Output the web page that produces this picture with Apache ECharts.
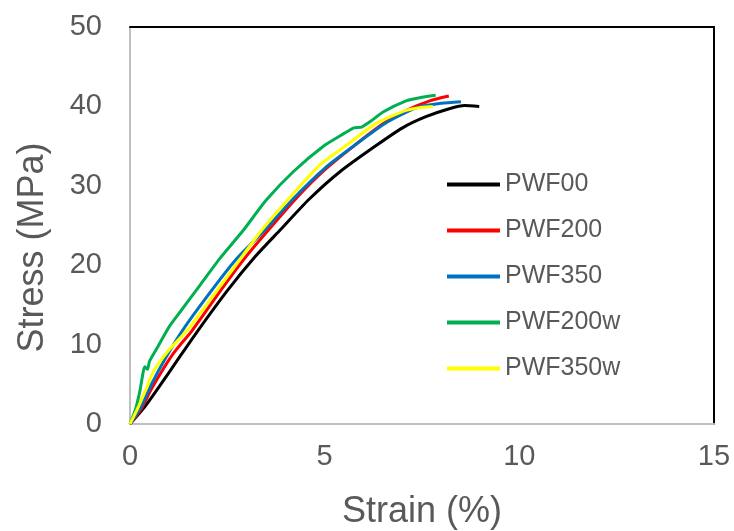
<!DOCTYPE html>
<html>
<head>
<meta charset="utf-8">
<script src="https://cdn.jsdelivr.net/npm/echarts@6/dist/echarts.min.js"></script>
<style>
html,body{margin:0;padding:0;background:#fff;}
#c{width:734px;height:531px;}
</style>
</head>
<body>
<div id="c"></div>
<script>
const seriesNames = ['PWF00', 'PWF200', 'PWF350', 'PWF200w', 'PWF350w'];
const xTicks = [0, 5, 10, 15];
const yTicks = [0, 10, 20, 30, 40, 50];

const pwf00 = [[0,0],[0.4,2.3],[0.75,4.7],[1.24,8.2],[1.75,11.8],[2.5,16.8],[3.2,21.0],[3.85,24.4],[4.6,28.3],[5.4,31.8],[6.33,35.1],[7.0,37.3],[7.6,38.7],[8.2,39.7],[8.6,40.1],[8.97,40.0]];
const pwf200 = [[0,0],[0.3,2.0],[0.56,4.5],[1.1,8.8],[1.6,11.8],[2.4,17.3],[3.0,21.2],[3.55,24.4],[4.3,28.6],[5.0,32.0],[5.77,35.1],[6.5,37.8],[7.1,39.5],[7.7,40.7],[8.19,41.3]];
const pwf350 = [[0,0],[0.3,2.3],[0.55,5.0],[0.9,8.2],[1.35,11.8],[2.0,16.2],[2.7,20.6],[3.46,24.4],[4.2,28.4],[5.0,32.2],[5.77,35.1],[6.6,38.0],[7.4,39.9],[8.0,40.4],[8.5,40.6]];
const pwf200w = [[0,0],[0.15,2.0],[0.26,4.3],[0.38,7.2],[0.45,6.9],[0.5,7.9],[0.7,9.6],[1.0,12.2],[1.3,14.2],[1.8,17.5],[2.3,20.8],[2.91,24.4],[3.5,28.2],[4.2,31.8],[5.0,35.1],[5.5,36.6],[5.75,37.3],[5.95,37.4],[6.2,38.2],[6.5,39.3],[7.09,40.7],[7.44,41.1],[7.85,41.4]];
const pwf350w = [[0,0],[0.2,2.0],[0.43,4.6],[0.6,6.6],[0.98,9.2],[1.47,11.8],[2.05,15.6],[2.7,19.9],[3.38,24.4],[4.1,28.5],[4.87,32.6],[5.56,35.1],[6.3,37.8],[7.09,39.5],[7.5,39.9],[7.78,40.0]];

const seriesData = [pwf00, pwf200, pwf350, pwf200w, pwf350w];
const colors = ['#000000', '#FF0000', '#0070C0', '#00B050', '#FFFF00'];

const FONT = 'Liberation Sans, Arial, sans-serif';
const TXT = '#595959';

const chart = echarts.init(document.getElementById('c'), null, {renderer: 'canvas'});
chart.setOption({
  animation: false,
  backgroundColor: '#ffffff',
  grid: {left: 130, right: 20, top: 27, bottom: 107, containLabel: false, outerBoundsMode: 'none'},
  legend: {
    orient: 'vertical',
    left: 442,
    top: 167,
    itemWidth: 53,
    itemHeight: 4,
    itemGap: 21,
    icon: 'rect',
    data: seriesNames,
    textStyle: {color: TXT, fontSize: 25, fontFamily: FONT, lineHeight: 25}
  },
  xAxis: [{
    type: 'value', min: xTicks[0], max: xTicks[xTicks.length-1], interval: 5,
    name: 'Strain (%)', nameLocation: 'middle', nameGap: 70,
    nameTextStyle: {color: TXT, fontSize: 36, fontFamily: FONT, lineHeight: 36},
    axisLine: {show: true, lineStyle: {color: '#BFBFBF', width: 2}},
    axisTick: {show: false},
    splitLine: {show: false},
    axisLabel: {color: TXT, fontSize: 29, fontFamily: FONT, margin: 18}
  }, {
    type: 'value', position: 'top', min: 0, max: 15,
    axisLine: {show: true, onZero: false, lineStyle: {color: '#000000', width: 2}},
    axisTick: {show: false}, axisLabel: {show: false}, splitLine: {show: false}
  }],
  yAxis: [{
    type: 'value', min: yTicks[0], max: yTicks[yTicks.length-1], interval: 10,
    name: 'Stress (MPa)', nameLocation: 'middle', nameGap: 79, nameRotate: 90,
    nameTextStyle: {color: TXT, fontSize: 36, fontFamily: FONT, padding: [0, 44, 0, 0]},
    axisLine: {show: true, lineStyle: {color: '#BFBFBF', width: 2}},
    axisTick: {show: false},
    splitLine: {show: false},
    axisLabel: {color: TXT, fontSize: 29, fontFamily: FONT, margin: 28}
  }, {
    type: 'value', position: 'right', min: 0, max: 50,
    axisLine: {show: true, onZero: false, lineStyle: {color: '#000000', width: 2}},
    axisTick: {show: false}, axisLabel: {show: false}, splitLine: {show: false}
  }],
  series: seriesNames.map((n, i) => ({
    name: n,
    type: 'line',
    data: seriesData[i],
    xAxisIndex: 0, yAxisIndex: 0,
    symbol: 'none',
    smooth: 0.2,
    color: colors[i],
    lineStyle: {color: colors[i], width: 3}
  }))
});
</script>
</body>
</html>
